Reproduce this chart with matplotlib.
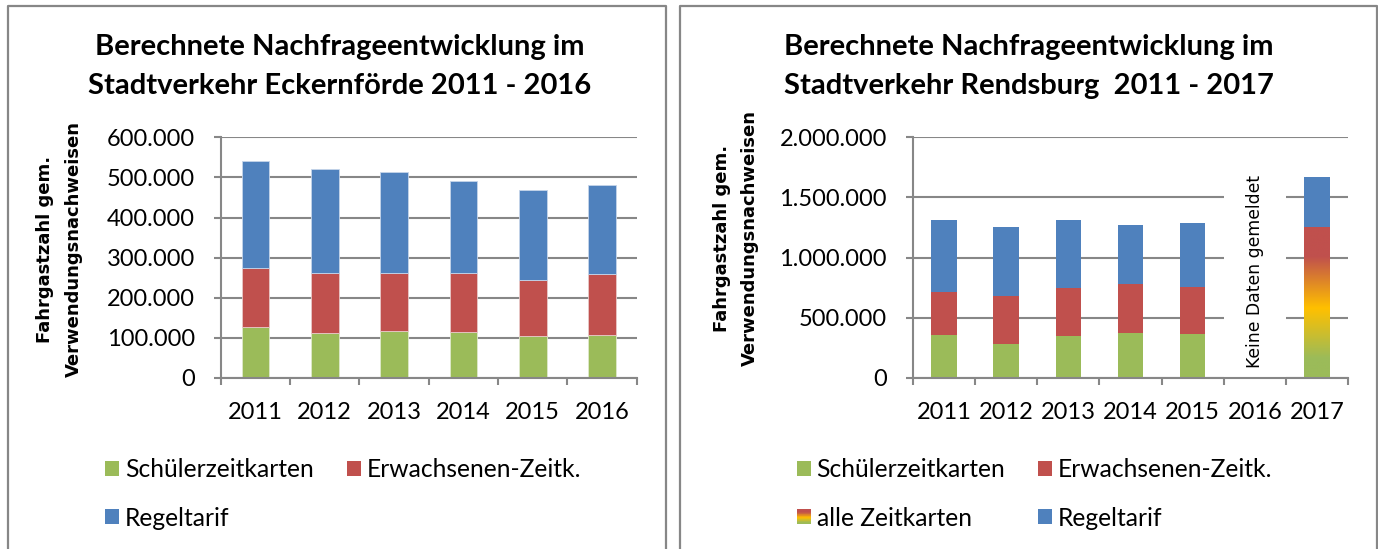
import matplotlib
matplotlib.use("Agg")
import matplotlib.pyplot as plt
import numpy as np
from matplotlib.colors import LinearSegmentedColormap
from matplotlib.patches import Rectangle
from matplotlib.legend_handler import HandlerBase
from matplotlib.lines import Line2D
from matplotlib.ticker import FuncFormatter, FixedLocator

plt.rcParams['font.family'] = ['Lato', 'DejaVu Sans']

# ---------------- data ----------------
eck_years = ["2011", "2012", "2013", "2014", "2015", "2016"]
eck_schueler = [126000, 112000, 116000, 115000, 105000, 107000]
eck_erwachsene = [147000, 149000, 146000, 146000, 139000, 151000]
eck_regeltarif = [268000, 261000, 252000, 230000, 224000, 222000]

rd_years = ["2011", "2012", "2013", "2014", "2015", "2016", "2017"]
rd_schueler = [357000, 282000, 349000, 374000, 366000, np.nan, np.nan]
rd_erwachsene = [360000, 402000, 402000, 410000, 390000, np.nan, np.nan]
rd_alle = [np.nan, np.nan, np.nan, np.nan, np.nan, np.nan, 1255000]
rd_regeltarif = [596000, 573000, 562000, 487000, 532000, np.nan, 415000]

lbl_schueler = "Schülerzeitkarten"
lbl_erw = "Erwachsenen-Zeitk."
lbl_alle = "alle Zeitkarten"
lbl_regel = "Regeltarif"
no_data_text = "Keine Daten gemeldet"

title_eck = ["Berechnete Nachfrageentwicklung im", "Stadtverkehr Eckernförde 2011 - 2016"]
title_rd = ["Berechnete Nachfrageentwicklung im", "Stadtverkehr Rendsburg  2011 - 2017"]
ylabel_lines = ["Fahrgastzahl gem.", "Verwendungsnachweisen"]

# ---------------- style ----------------
GREEN = "#9BBB59"
RED = "#C0504D"
BLUE = "#4F81BD"
GRAY = "#878787"
W, H = 1378, 549
TICK_FS = 17
grad_cmap = LinearSegmentedColormap.from_list(
    "zeit", [(0.0, GREEN), (0.13, GREEN), (0.46, "#FFC000"), (0.8, RED), (1.0, RED)])

fig = plt.figure(figsize=(W / 100, H / 100), dpi=100)


def fx(px):
    return px / W


def fy(py):
    return 1 - py / H


def thousands(v, pos):
    return f"{int(round(v)):,}".replace(",", ".")


def setup_axes(ax, n, ymax, ystep):
    ax.set_xlim(-0.5, n - 0.5)
    ax.set_ylim(0, ymax)
    ax.set_axisbelow(True)
    for s in ["top", "right"]:
        ax.spines[s].set_visible(False)
    for s in ["left", "bottom"]:
        ax.spines[s].set_color(GRAY)
        ax.spines[s].set_linewidth(1.5)
    ax.yaxis.set_major_locator(FixedLocator(np.arange(0, ymax + 1, ystep)))
    ax.yaxis.set_major_formatter(FuncFormatter(thousands))
    ax.grid(axis="y", color=GRAY, linewidth=1.5, zorder=0.5)
    ax.tick_params(axis="y", direction="out", length=5, width=1.5, color=GRAY,
                   labelsize=TICK_FS, pad=13.5)
    ax.xaxis.set_major_locator(FixedLocator(np.arange(n)))
    ax.xaxis.set_minor_locator(FixedLocator(np.arange(n + 1) - 0.5))
    ax.tick_params(axis="x", which="major", length=0, labelsize=TICK_FS, pad=17.5)
    ax.tick_params(axis="x", which="minor", direction="out", length=5, width=1.5, color=GRAY)


# ---------------- left chart ----------------
axL = fig.add_axes([fx(220.7), fy(378), fx(636.7) - fx(220.7), fy(137.3) - fy(378)])
xL = np.arange(len(eck_years))
wL = 0.4
b1 = np.array(eck_schueler, dtype=float)
b2 = b1 + np.array(eck_erwachsene, dtype=float)
axL.bar(xL, eck_schueler, wL, color=GREEN, edgecolor="#dfe8cc", linewidth=0.6, zorder=2)
axL.bar(xL, eck_erwachsene, wL, bottom=b1, color=RED, edgecolor="#e8c9c8", linewidth=0.6, zorder=2)
axL.bar(xL, eck_regeltarif, wL, bottom=b2, color=BLUE, edgecolor="#c6d5ea", linewidth=0.6, zorder=2)
setup_axes(axL, len(eck_years), 600000, 100000)
axL.set_xticklabels(eck_years)

# ---------------- right chart ----------------
axR = fig.add_axes([fx(912.7), fy(378), fx(1348.3) - fx(912.7), fy(137.3) - fy(378)])
xR = np.arange(len(rd_years))
wR = 0.41
s = np.nan_to_num(np.array(rd_schueler, dtype=float))
e = np.nan_to_num(np.array(rd_erwachsene, dtype=float))
a = np.nan_to_num(np.array(rd_alle, dtype=float))
axR.bar(xR, s, wR, color=GREEN, edgecolor="none", zorder=2)
axR.bar(xR, e, wR, bottom=s, color=RED, edgecolor="none", zorder=2)
grad_bars = axR.bar(xR, a, wR, bottom=s + e, color="none", edgecolor="none", zorder=2)
grad = np.linspace(0, 1, 256).reshape(-1, 1)
for rect, val in zip(grad_bars, a):
    if val > 0:
        x0 = rect.get_x()
        im = axR.imshow(grad, cmap=grad_cmap, origin="lower", aspect="auto",
                        extent=[x0, x0 + rect.get_width(), rect.get_y(), rect.get_y() + val],
                        zorder=2, interpolation="bilinear")
        im.set_clip_path(rect)
axR.bar(xR, np.nan_to_num(np.array(rd_regeltarif, dtype=float)), wR, bottom=s + e + a,
        color=BLUE, edgecolor="none", zorder=2)
setup_axes(axR, len(rd_years), 2000000, 500000)
axR.set_xticklabels(rd_years)
# white text box in the 2016 slot hiding the gridlines
idx16 = rd_years.index("2016")
axR.add_patch(Rectangle((idx16 - 0.5, 0), 1.0, 1880000, facecolor="white",
                        edgecolor="none", zorder=1))
axR.text(idx16, 883000, no_data_text, rotation=90, ha="center", va="center",
         fontsize=12.4, family="DejaVu Sans", zorder=3)

# ---------------- titles & labels ----------------
for cx, lines in [(339.5, title_eck), (1029, title_rd)]:
    fig.text(fx(cx), fy(55.3), lines[0], ha="center", va="baseline", fontsize=21, fontweight="bold")
    fig.text(fx(cx), fy(93.8), lines[1], ha="center", va="baseline", fontsize=21, fontweight="bold")

for (x1, x2, cy) in [(45.5, 73.7, 249), (722, 750, 238)]:
    fig.text(fx(x1), fy(cy), ylabel_lines[0], rotation=90, ha="center", va="center",
             fontsize=13, fontweight="bold", family="DejaVu Sans")
    fig.text(fx(x2), fy(cy), ylabel_lines[1], rotation=90, ha="center", va="center",
             fontsize=13, fontweight="bold", family="DejaVu Sans")


# ---------------- legends ----------------
class GradientHandler(HandlerBase):
    def create_artists(self, legend, orig_handle, xdescent, ydescent, width, height,
                       fontsize, trans):
        n = 24
        arts = []
        for i in range(n):
            r = Rectangle((-xdescent, -ydescent + i * height / n), width, height / n + 0.05,
                          facecolor=grad_cmap((i + 0.5) / n), edgecolor="none", transform=trans)
            arts.append(r)
        return arts


class GradKey:
    pass


LEG_FS = 17.7
leg_kw = dict(frameon=False, fontsize=LEG_FS, handlelength=0.57, handleheight=0.57,
              handletextpad=0.24, columnspacing=1.34, labelspacing=1.04,
              borderpad=0, borderaxespad=0, loc="upper left")

hS = Rectangle((0, 0), 1, 1, facecolor=GREEN)
hE = Rectangle((0, 0), 1, 1, facecolor=RED)
hR = Rectangle((0, 0), 1, 1, facecolor=BLUE)
hA = GradKey()

fig.legend([hS, hR, hE], [lbl_schueler, lbl_regel, lbl_erw], ncol=2,
           bbox_to_anchor=(fx(105), fy(458)), **leg_kw)
fig.legend([hS, hA, hE, hR], [lbl_schueler, lbl_alle, lbl_erw, lbl_regel], ncol=2,
           bbox_to_anchor=(fx(796.7), fy(458)), handler_map={GradKey: GradientHandler()}, **leg_kw)

# ---------------- panel borders ----------------
for (l, r) in [(8, 665.7), (680.3, 1376.5)]:
    fig.add_artist(Line2D([fx(l), fx(l), fx(r), fx(r)], [fy(H + 5), fy(6), fy(6), fy(H + 5)],
                          color=GRAY, linewidth=1.6, transform=fig.transFigure))

fig.savefig("out.png", dpi=100)
